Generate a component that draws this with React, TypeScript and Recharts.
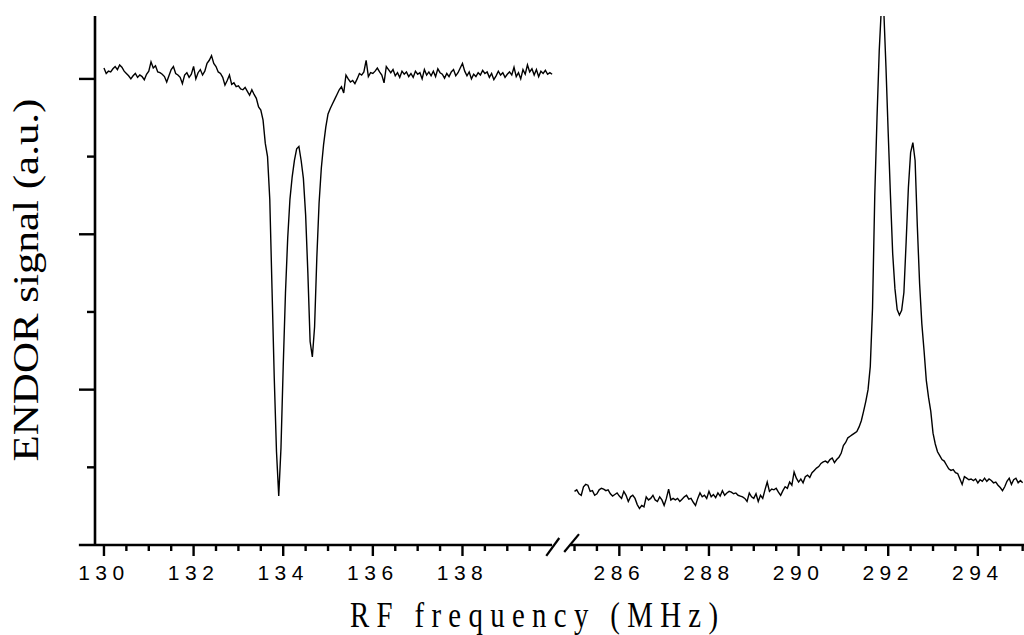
import React from "react";
import { LineChart, Line, XAxis, YAxis, ReferenceLine } from "recharts";

// Frequency sweep (MHz): uniform 0.05 MHz steps
const LEFT_START = 130;
const RIGHT_START = 285;
const STEP = 0.05;
// virtual-axis shift that closes the 140–285 MHz gap (axis break)
const BREAK_SHIFT = 144.5;

// ENDOR signal (a.u.), 130.00 … 140.00 MHz
const leftSignal = [
  6.14, 6.07, 6.1, 6.09, 6.13, 6.16, 6.12, 6.18, 6.15, 6.1,
  6.07, 6.04, 6.0, 6.04, 6.07, 6.02, 6.05, 6.03, 5.99, 6.06,
  6.1, 6.22, 6.14, 6.17, 6.09, 6.08, 6.06, 6.03, 5.96, 6.04,
  6.12, 6.16, 6.07, 6.05, 6.02, 5.94, 6.05, 6.08, 6.02, 6.06,
  6.16, 6.0, 6.08, 6.12, 6.05, 6.1, 6.2, 6.24, 6.3, 6.2,
  6.16, 6.09, 6.07, 6.02, 5.92, 5.98, 6.05, 5.93, 5.95, 5.9,
  5.91, 5.87, 5.86, 5.89, 5.84, 5.79, 5.86, 5.8, 5.75, 5.64,
  5.6, 5.47, 5.17, 5.0, 4.45, 3.3, 2.15, 1.2, 0.63, 1.25,
  2.3, 3.24, 3.95, 4.45, 4.74, 4.95, 5.1, 5.13, 4.95, 4.72,
  4.25, 3.5, 2.62, 2.42, 2.81, 3.7, 4.4, 4.85, 5.15, 5.38,
  5.55, 5.62, 5.68, 5.74, 5.8, 5.86, 5.9, 5.82, 6.05, 6.0,
  5.96, 5.98, 5.94, 6.0, 6.07, 6.05, 6.09, 6.24, 6.03, 6.08,
  6.07, 6.1, 6.14, 6.09, 6.05, 5.95, 6.16, 6.12, 6.08, 6.12,
  6.04, 6.08, 6.02, 6.1, 6.06, 6.09, 6.03, 6.07, 6.02, 6.1,
  6.06, 6.08, 6.0, 6.12, 6.05, 6.09, 6.04, 6.1, 6.03, 6.13,
  6.08, 6.06, 6.01, 6.07, 6.03, 6.09, 6.12, 6.04, 6.08, 6.14,
  6.2, 6.1, 6.04, 6.09, 6.0, 6.06, 6.03, 6.08, 6.05, 6.11,
  6.07, 6.09, 6.02, 6.07, 5.99, 6.04, 6.1, 6.05, 6.08, 6.02,
  6.06, 6.09, 6.05, 6.15, 6.03, 6.08, 6.0, 6.12, 6.06, 6.18,
  6.09, 6.13, 6.05, 6.12, 6.03, 6.1, 6.07, 6.11, 6.06, 6.08,
  6.06,
];

// ENDOR signal (a.u.), 285.00 … 295.00 MHz
const rightSignal = [
  0.69, 0.71, 0.66, 0.64, 0.75, 0.78, 0.77, 0.69, 0.7, 0.64,
  0.66, 0.71, 0.73, 0.72, 0.7, 0.71, 0.66, 0.63, 0.65, 0.67,
  0.63, 0.6, 0.69, 0.64, 0.56, 0.62, 0.64, 0.6, 0.52, 0.47,
  0.51, 0.49, 0.62, 0.58, 0.6, 0.64, 0.58, 0.56, 0.62, 0.58,
  0.51, 0.6, 0.72, 0.58, 0.6, 0.58, 0.6, 0.56, 0.59, 0.62,
  0.64, 0.59, 0.6, 0.55, 0.51, 0.6, 0.67, 0.62, 0.64, 0.6,
  0.69, 0.62, 0.65, 0.61, 0.67, 0.63, 0.7, 0.64, 0.67, 0.69,
  0.68, 0.66, 0.67, 0.64, 0.63, 0.62, 0.6, 0.56, 0.67, 0.62,
  0.6, 0.66, 0.56, 0.64, 0.6, 0.71, 0.81, 0.69, 0.72, 0.71,
  0.73, 0.68, 0.64, 0.7, 0.75, 0.73, 0.81, 0.77, 0.94, 0.86,
  0.81, 0.85, 0.8, 0.88, 0.9, 0.87, 0.93, 0.96, 0.99, 1.01,
  1.05, 1.07, 1.08, 1.06, 1.1, 1.12, 1.06, 1.1, 1.13, 1.18,
  1.28, 1.32, 1.38, 1.4, 1.42, 1.44, 1.46, 1.52, 1.6, 1.72,
  1.85, 2.0, 2.3, 3.05, 4.5, 5.5, 6.37, 6.95, 6.9, 6.15,
  5.3, 4.5, 3.75, 3.3, 3.03, 2.96, 3.02, 3.25, 3.9, 4.6,
  5.05, 5.18, 4.95, 4.1, 3.37, 2.85, 2.5, 2.12, 1.9, 1.72,
  1.44, 1.3, 1.2, 1.15, 1.1, 1.08, 1.03, 0.98, 0.96, 0.97,
  0.93, 0.92, 0.85, 0.78, 0.88, 0.86, 0.84, 0.85, 0.83, 0.85,
  0.8, 0.84, 0.82, 0.86, 0.82, 0.85, 0.83, 0.8, 0.81, 0.77,
  0.74, 0.7, 0.75, 0.82, 0.86, 0.78, 0.84, 0.86, 0.8, 0.83,
  0.8,
];

// x tick frequencies (MHz), minor every 0.5, labelled every 2
const leftTickFreqs = [
  130, 130.5, 131, 131.5, 132, 132.5, 133, 133.5, 134, 134.5,
  135, 135.5, 136, 136.5, 137, 137.5, 138, 138.5, 139, 139.5,
];
const rightTickFreqs = [
  285, 285.5, 286, 286.5, 287, 287.5, 288, 288.5, 289, 289.5, 290,
  290.5, 291, 291.5, 292, 292.5, 293, 293.5, 294, 294.5, 295,
];
const xTickLabels = [130, 132, 134, 136, 138, 286, 288, 290, 292, 294];

// y ticks (a.u.), labels hidden
const yTicks = [0, 1, 2, 3, 4, 5, 6];
const yMajorTicks = [2, 4, 6];

const X_DOMAIN: [number, number] = [129.8, 150.53];
const Y_DOMAIN: [number, number] = [0, 6.81];

// axis-line pieces and break marks (virtual axis units)
const AXIS_LEFT_START = 129.44;
const AXIS_LEFT_END = 140.0;
const AXIS_RIGHT_START = 140.4;
const breakMarks = [
  { x1: 139.87, y1: -0.14, x2: 140.16, y2: 0.09 },
  { x1: 140.27, y1: -0.09, x2: 140.6, y2: 0.14 },
];

const leftData = leftSignal.map((s, i) => ({
  v: +(LEFT_START + i * STEP).toFixed(3),
  s,
}));
const rightData = rightSignal.map((s, i) => ({
  v: +(RIGHT_START + i * STEP - BREAK_SHIFT).toFixed(3),
  s,
}));
const xTicks = [
  ...leftTickFreqs,
  ...rightTickFreqs.map((f) => +(f - BREAK_SHIFT).toFixed(3)),
];

const toFreq = (v: number) => (v > 140.2 ? +(v + BREAK_SHIFT).toFixed(3) : v);

const XTick = (props: any) => {
  const { x, y, payload } = props;
  const f = toFreq(payload.value);
  const major = xTickLabels.includes(f);
  return (
    <g>
      <line x1={x} x2={x} y1={y} y2={y + (major ? 11 : 6)} stroke="#000" strokeWidth={2.4} />
      {major && (
        <text
          x={x}
          y={y + 35}
          textAnchor="middle"
          fontFamily="'Liberation Sans', Arial, sans-serif"
          fontSize={21}
          letterSpacing={5.5}
          fill="#000"
        >
          {f}
        </text>
      )}
    </g>
  );
};

const YTick = (props: any) => {
  const { x, y, payload } = props;
  const major = yMajorTicks.includes(payload.value);
  if (payload.value === 0) return <g />;
  return (
    <line x1={x - (major ? 16 : 8)} x2={x} y1={y} y2={y} stroke="#000" strokeWidth={2.4} />
  );
};

export default function App() {
  return (
    <div style={{ position: "absolute", left: 0, top: 0, width: 1024, height: 635, background: "#fff" }}>
      <LineChart width={1024} height={635} margin={{ top: 16, right: 0, bottom: 0, left: 0 }}>
        <XAxis
          type="number"
          dataKey="v"
          domain={X_DOMAIN}
          allowDataOverflow
          ticks={xTicks}
          interval={0}
          height={90}
          axisLine={false}
          tickLine={false}
          tickSize={0}
          tickMargin={0}
          tick={<XTick />}
        />
        <YAxis
          type="number"
          domain={Y_DOMAIN}
          allowDataOverflow
          ticks={yTicks}
          interval={0}
          width={95}
          axisLine={{ stroke: "#000", strokeWidth: 2.6 }}
          tickLine={false}
          tickSize={0}
          tickMargin={0}
          tick={<YTick />}
        />
        <ReferenceLine
          segment={[{ x: AXIS_LEFT_START, y: 0 }, { x: AXIS_LEFT_END, y: 0 }]}
          stroke="#000"
          strokeWidth={2.6}
          ifOverflow="visible"
        />
        <ReferenceLine
          segment={[{ x: AXIS_RIGHT_START, y: 0 }, { x: X_DOMAIN[1], y: 0 }]}
          stroke="#000"
          strokeWidth={2.6}
          ifOverflow="visible"
        />
        {breakMarks.map((b, i) => (
          <ReferenceLine
            key={i}
            segment={[{ x: b.x1, y: b.y1 }, { x: b.x2, y: b.y2 }]}
            stroke="#000"
            strokeWidth={2.2}
            ifOverflow="visible"
          />
        ))}
        <Line
          data={leftData}
          dataKey="s"
          type="linear"
          stroke="#000"
          strokeWidth={1.4}
          dot={false}
          isAnimationActive={false}
        />
        <Line
          data={rightData}
          dataKey="s"
          type="linear"
          stroke="#000"
          strokeWidth={1.4}
          dot={false}
          isAnimationActive={false}
        />
      </LineChart>
      <svg
        width={1024}
        height={635}
        style={{ position: "absolute", left: 0, top: 0, pointerEvents: "none" }}
      >
        <text
          transform="translate(38,280) scale(0.84,1) rotate(-90)"
          textAnchor="middle"
          fontFamily="'Liberation Serif', 'Times New Roman', serif"
          fontSize={43}
          fill="#000"
        >
          ENDOR signal (a.u.)
        </text>
        <text
          transform="translate(350,627) scale(0.8,1)"
          fontFamily="'Liberation Serif', 'Times New Roman', serif"
          fontSize={36}
          textLength={460}
          lengthAdjust="spacing"
          fill="#000"
        >
          RF frequency (MHz)
        </text>
      </svg>
    </div>
  );
}
